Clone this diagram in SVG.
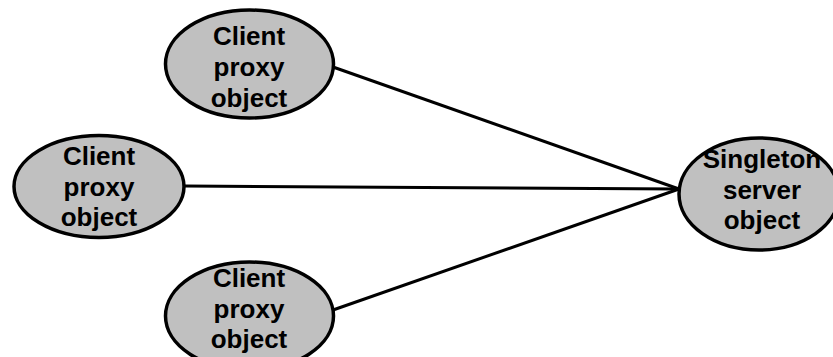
<svg xmlns="http://www.w3.org/2000/svg" width="833" height="357" viewBox="0 0 833 357">
<style>
.node ellipse{fill:#c0c0c0;stroke:#000;stroke-width:3.5}
.node text{font-family:"Liberation Sans",Arial,sans-serif;font-weight:bold;font-size:26px;fill:#000;text-anchor:middle}
.edges line{stroke:#000;stroke-width:3}
</style>
<rect width="833" height="357" fill="#fff"/>
<g id="edges" class="edges">
<line x1="333" y1="67" x2="679" y2="189"/>
<line x1="185" y1="186" x2="679" y2="189"/>
<line x1="333" y1="310" x2="679" y2="189"/>
</g>
<g id="client1" class="node">
<ellipse cx="249.5" cy="64" rx="84" ry="54"/>
<text x="249" y="45">Client</text>
<text x="249" y="76">proxy</text>
<text x="249" y="107">object</text>
</g>
<g id="client2" class="node">
<ellipse cx="99" cy="186.5" rx="85" ry="51"/>
<text x="99" y="165">Client</text>
<text x="99" y="196">proxy</text>
<text x="99" y="226">object</text>
</g>
<g id="client3" class="node">
<ellipse cx="249.5" cy="316" rx="84" ry="54"/>
<text x="249" y="287">Client</text>
<text x="249" y="318">proxy</text>
<text x="249" y="348">object</text>
</g>
<g id="server" class="node">
<ellipse cx="759" cy="194" rx="80" ry="56"/>
<text x="762" y="168">Singleton</text>
<text x="762" y="199">server</text>
<text x="762" y="229">object</text>
</g>
</svg>
